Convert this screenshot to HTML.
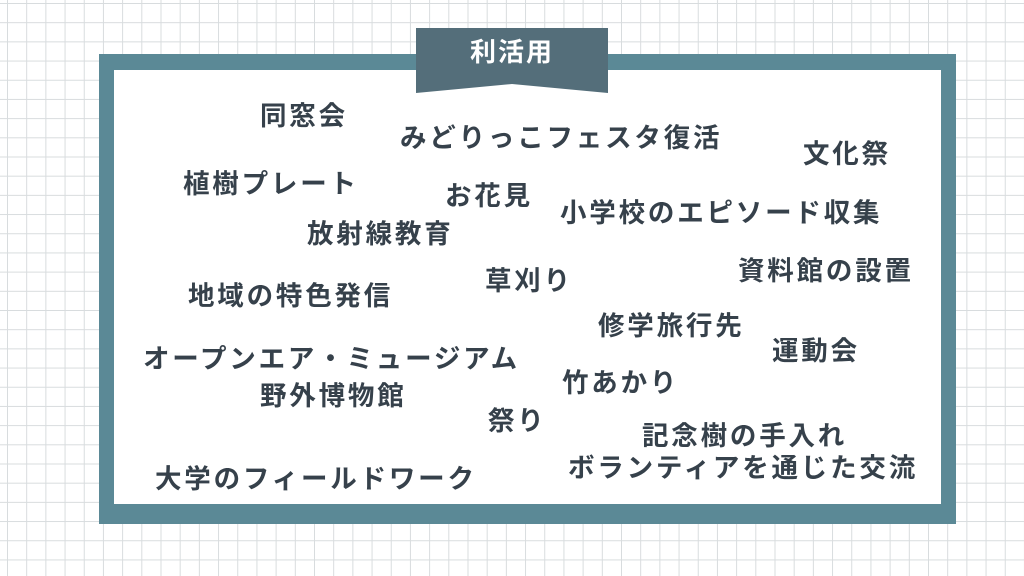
<!DOCTYPE html>
<html><head><meta charset="utf-8"><style>
html,body{margin:0;padding:0}
body{width:1024px;height:576px;position:relative;overflow:hidden;background-color:#fff;
background-image:linear-gradient(#d8dcde 1px,transparent 1px),linear-gradient(90deg,#d8dcde 1px,transparent 1px);
background-size:19.2px 19.2px;background-position:7px 3px;}
.frame{position:absolute;left:99px;top:54px;width:857px;height:470px;background:#5b8996;}
.inner{position:absolute;left:114px;top:70px;width:827px;height:434px;background:#fff;}
.t{position:absolute;font-family:"Liberation Sans","Noto Sans CJK JP",sans-serif;font-weight:bold;font-size:26.5px;line-height:30px;color:#36414b;letter-spacing:2.8px;white-space:nowrap;}
</style></head><body>
<div class="frame"></div>
<div class="inner"></div>
<svg style="position:absolute;left:0;top:0" width="1024" height="576">
<polygon points="416,28 608,28 608,93 512,84 416,93" fill="#546e7a"/>
<text x="512" y="61" text-anchor="middle" fill="#fff" font-family="Liberation Sans,Noto Sans CJK JP,sans-serif" font-weight="bold" font-size="26" letter-spacing="2">利活用</text>
</svg>
<div class="t" style="left:260px;top:101px">同窓会</div>
<div class="t" style="left:400px;top:123px">みどりっこフェスタ復活</div>
<div class="t" style="left:803px;top:139px">文化祭</div>
<div class="t" style="left:183px;top:169px">植樹プレート</div>
<div class="t" style="left:445px;top:181px">お花見</div>
<div class="t" style="left:560px;top:198px">小学校のエピソード収集</div>
<div class="t" style="left:307px;top:219px">放射線教育</div>
<div class="t" style="left:738px;top:256px">資料館の設置</div>
<div class="t" style="left:485px;top:266px">草刈り</div>
<div class="t" style="left:188px;top:281px">地域の特色発信</div>
<div class="t" style="left:598px;top:311px">修学旅行先</div>
<div class="t" style="left:772px;top:336px">運動会</div>
<div class="t" style="left:143px;top:344px">オープンエア・ミュージアム</div>
<div class="t" style="left:562px;top:368px">竹あかり</div>
<div class="t" style="left:260px;top:381px">野外博物館</div>
<div class="t" style="left:488px;top:406px">祭り</div>
<div class="t" style="left:642px;top:421px">記念樹の手入れ</div>
<div class="t" style="left:568px;top:453px">ボランティアを通じた交流</div>
<div class="t" style="left:155px;top:464px">大学のフィールドワーク</div>
</body></html>
